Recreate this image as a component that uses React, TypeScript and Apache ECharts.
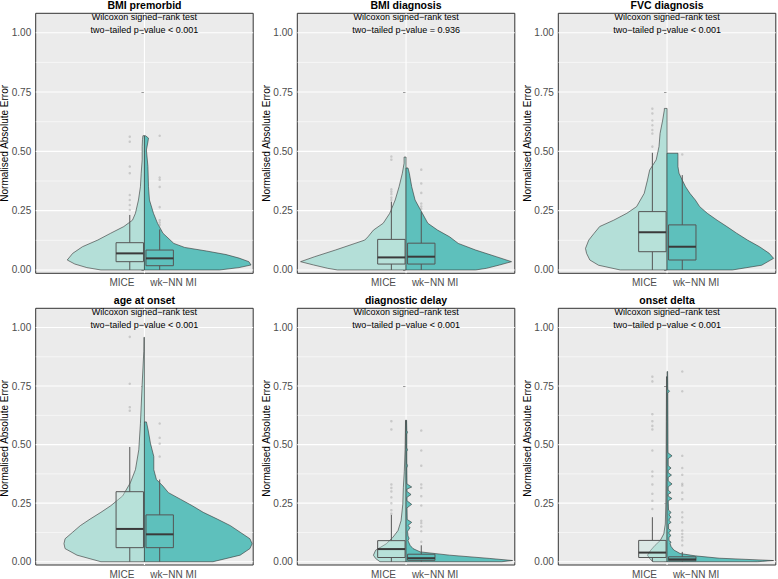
import React, { useEffect, useRef } from "react";
import * as echarts from "echarts";

// ---------- data ----------
const PANEL_TITLES = ["BMI premorbid", "BMI diagnosis", "FVC diagnosis", "age at onset", "diagnostic delay", "onset delta"];
const TEST_NAME = "Wilcoxon signed−rank test";
const P_TEXTS = [
  "two−tailed p−value < 0.001",
  "two−tailed p−value = 0.936",
  "two−tailed p−value < 0.001",
  "two−tailed p−value < 0.001",
  "two−tailed p−value < 0.001",
  "two−tailed p−value < 0.001",
];
const METHODS = ["MICE", "wk−NN MI"];
const Y_TITLE = "Normalised Absolute Error";
const Y_TICKS = [0, 0.25, 0.5, 0.75, 1];

// violin profiles (error value, half-width of density)
const BMIPRE_MICE_Y = [0, 0.01, 0.025, 0.042, 0.07, 0.098, 0.126, 0.155, 0.183, 0.21, 0.239, 0.295, 0.351, 0.408, 0.464, 0.52, 0.55, 0.566];
const BMIPRE_MICE_W = [0.4, 0.53, 0.64, 0.71, 0.66, 0.57, 0.43, 0.31, 0.19, 0.11, 0.083, 0.055, 0.037, 0.03, 0.021, 0.021, 0.018, 0.014];
const BMIPRE_WKNN_Y = [0, 0.01, 0.021, 0.035, 0.05, 0.065, 0.08, 0.095, 0.112, 0.155, 0.197, 0.239, 0.295, 0.351, 0.436, 0.506, 0.54, 0.556, 0.566];
const BMIPRE_WKNN_W = [0.69, 0.87, 0.98, 0.96, 0.87, 0.75, 0.57, 0.37, 0.27, 0.17, 0.12, 0.083, 0.046, 0.037, 0.032, 0.018, 0.032, 0.037, 0.009];

const BMIDIAG_MICE_Y = [0, 0.007, 0.021, 0.035, 0.056, 0.084, 0.112, 0.126, 0.14, 0.168, 0.197, 0.239, 0.295, 0.351, 0.408, 0.45, 0.476];
const BMIDIAG_MICE_W = [0.63, 0.72, 0.85, 0.97, 0.84, 0.65, 0.47, 0.38, 0.35, 0.3, 0.21, 0.15, 0.1, 0.064, 0.034, 0.018, 0.018];
const BMIDIAG_WKNN_Y = [0, 0.007, 0.021, 0.035, 0.056, 0.084, 0.112, 0.14, 0.168, 0.197, 0.239, 0.295, 0.351, 0.408, 0.43];
const BMIDIAG_WKNN_W = [0.64, 0.74, 0.86, 0.97, 0.83, 0.64, 0.48, 0.4, 0.29, 0.2, 0.15, 0.083, 0.052, 0.03, 0.018];

const FVC_MICE_Y = [0, 0.02, 0.042, 0.07, 0.091, 0.126, 0.155, 0.183, 0.21, 0.239, 0.267, 0.323, 0.379, 0.421, 0.464, 0.52, 0.576, 0.632, 0.674, 0.681];
const FVC_MICE_W = [0.43, 0.63, 0.71, 0.74, 0.75, 0.72, 0.67, 0.62, 0.49, 0.37, 0.28, 0.21, 0.18, 0.16, 0.1, 0.074, 0.064, 0.04, 0.025, 0.025];
const FVC_WKNN_Y = [0, 0.02, 0.049, 0.07, 0.098, 0.126, 0.155, 0.183, 0.21, 0.239, 0.267, 0.295, 0.323, 0.351, 0.379, 0.408, 0.436, 0.478, 0.492];
const FVC_WKNN_W = [0.6, 0.87, 0.98, 0.94, 0.85, 0.74, 0.64, 0.55, 0.46, 0.37, 0.3, 0.26, 0.21, 0.17, 0.14, 0.11, 0.1, 0.1, 0.1];

const AGE_MICE_Y = [0, 0.028, 0.056, 0.077, 0.098, 0.126, 0.154, 0.182, 0.211, 0.239, 0.281, 0.337, 0.393, 0.478, 0.59, 0.758, 0.899, 0.958];
const AGE_MICE_W = [0.4, 0.62, 0.73, 0.74, 0.73, 0.66, 0.59, 0.5, 0.4, 0.31, 0.2, 0.13, 0.083, 0.052, 0.037, 0.021, 0.006, 0.005];
const AGE_WKNN_Y = [0, 0.028, 0.056, 0.077, 0.098, 0.126, 0.154, 0.182, 0.211, 0.239, 0.267, 0.295, 0.323, 0.351, 0.393, 0.449, 0.506, 0.562, 0.597];
const AGE_WKNN_W = [0.63, 0.88, 0.97, 0.99, 0.97, 0.88, 0.79, 0.67, 0.54, 0.44, 0.33, 0.22, 0.17, 0.11, 0.086, 0.086, 0.055, 0.034, 0.018];

const DELAY_MICE_Y = [0, 0.014, 0.028, 0.049, 0.077, 0.105, 0.133, 0.175, 0.245, 0.316, 0.386, 0.478, 0.562, 0.604];
const DELAY_MICE_W = [0.24, 0.28, 0.3, 0.28, 0.18, 0.12, 0.074, 0.046, 0.03, 0.025, 0.016, 0.009, 0.006, 0.005];
const DELAY_WKNN_Y = [0, 0.005, 0.014, 0.028, 0.042, 0.056, 0.07, 0.09, 0.1, 0.11, 0.13, 0.145, 0.155, 0.168, 0.18, 0.23, 0.245, 0.26, 0.275, 0.287, 0.3, 0.31, 0.319, 0.332, 0.4, 0.41, 0.42, 0.47, 0.478, 0.486, 0.545, 0.553, 0.56, 0.604];
const DELAY_WKNN_W = [0.88, 0.98, 0.77, 0.4, 0.13, 0.064, 0.037, 0.018, 0.028, 0.018, 0.014, 0.037, 0.018, 0.052, 0.011, 0.009, 0.052, 0.009, 0.009, 0.046, 0.009, 0.009, 0.052, 0.009, 0.007, 0.014, 0.007, 0.007, 0.014, 0.007, 0.007, 0.014, 0.007, 0.005];

const DELTA_MICE_Y = [0, 0.014, 0.028, 0.049, 0.07, 0.091, 0.119, 0.161, 0.25, 0.4, 0.6, 0.79];
const DELTA_MICE_W = [0.13, 0.16, 0.18, 0.15, 0.11, 0.062, 0.03, 0.016, 0.011, 0.009, 0.007, 0.005];
const DELTA_WKNN_Y = [0, 0.005, 0.015, 0.025, 0.035, 0.05, 0.065, 0.077, 0.084, 0.09, 0.105, 0.112, 0.12, 0.126, 0.133, 0.14, 0.16, 0.168, 0.176, 0.183, 0.19, 0.2, 0.211, 0.22, 0.26, 0.27, 0.28, 0.288, 0.295, 0.305, 0.32, 0.332, 0.345, 0.36, 0.37, 0.38, 0.39, 0.4, 0.41, 0.44, 0.452, 0.465, 0.72, 0.728, 0.736, 0.812];
const DELTA_WKNN_W = [0.83, 0.98, 0.48, 0.26, 0.12, 0.062, 0.037, 0.028, 0.037, 0.018, 0.018, 0.037, 0.018, 0.018, 0.037, 0.014, 0.014, 0.037, 0.02, 0.02, 0.037, 0.018, 0.037, 0.014, 0.011, 0.046, 0.011, 0.011, 0.037, 0.011, 0.011, 0.046, 0.011, 0.011, 0.041, 0.011, 0.011, 0.037, 0.011, 0.011, 0.046, 0.009, 0.007, 0.023, 0.007, 0.005];

// boxplot stats: [lower whisker, Q1, median, Q3, upper whisker]
const BOX_MICE = [
  [0, 0.035, 0.07, 0.115, 0.232],
  [0, 0.025, 0.053, 0.129, 0.288],
  [0, 0.077, 0.159, 0.246, 0.494],
  [0, 0.06, 0.14, 0.299, 0.49],
  [0, 0.018, 0.054, 0.09, 0.2],
  [0, 0.018, 0.039, 0.091, 0.19],
];
const BOX_WKNN = [
  [0, 0.018, 0.049, 0.084, 0.171],
  [0, 0.025, 0.056, 0.113, 0.245],
  [0, 0.042, 0.098, 0.19, 0.4],
  [0, 0.06, 0.117, 0.2, 0.351],
  [0, 0.006, 0.015, 0.032, 0.07],
  [0, 0.004, 0.01, 0.021, 0.042],
];

// outliers
const OUT_MICE = [
  [0.562, 0.541, 0.436, 0.408, 0.316, 0.295, 0.274, 0.253],
  [0.478, 0.465, 0.34, 0.33, 0.32, 0.305, 0.295],
  [0.68, 0.66, 0.63, 0.61, 0.59, 0.575, 0.52],
  [0.96, 0.76, 0.66, 0.645],
  [0.6, 0.565, 0.33, 0.315, 0.3, 0.275, 0.25, 0.22, 0.205],
  [0.79, 0.77, 0.63, 0.6, 0.58, 0.565, 0.475, 0.385, 0.365, 0.33, 0.29, 0.26, 0.225],
];
const OUT_WKNN = [
  [0.566, 0.39, 0.38, 0.35, 0.265, 0.21, 0.2, 0.19],
  [0.423, 0.365, 0.325, 0.28, 0.268, 0.258],
  [0.487],
  [0.59, 0.529, 0.504, 0.449],
  [0.56, 0.475, 0.41, 0.33, 0.315, 0.28, 0.24, 0.175, 0.165, 0.15, 0.13, 0.085],
  [0.812, 0.728, 0.452, 0.4, 0.371, 0.333, 0.325, 0.295, 0.267, 0.211, 0.19, 0.168, 0.133, 0.119, 0.105, 0.091, 0.07],
];

const VIOLINS = [
  [{ y: BMIPRE_MICE_Y, w: BMIPRE_MICE_W }, { y: BMIPRE_WKNN_Y, w: BMIPRE_WKNN_W }],
  [{ y: BMIDIAG_MICE_Y, w: BMIDIAG_MICE_W }, { y: BMIDIAG_WKNN_Y, w: BMIDIAG_WKNN_W }],
  [{ y: FVC_MICE_Y, w: FVC_MICE_W }, { y: FVC_WKNN_Y, w: FVC_WKNN_W }],
  [{ y: AGE_MICE_Y, w: AGE_MICE_W }, { y: AGE_WKNN_Y, w: AGE_WKNN_W }],
  [{ y: DELAY_MICE_Y, w: DELAY_MICE_W }, { y: DELAY_WKNN_Y, w: DELAY_WKNN_W }],
  [{ y: DELTA_MICE_Y, w: DELTA_MICE_W }, { y: DELTA_WKNN_Y, w: DELTA_WKNN_W }],
];

// ---------- layout / style ----------
const FONT = "'Liberation Sans', Arial, Helvetica, sans-serif";
const FILLS = ["#B4DFD8", "#5EC0BC"];
const BOX_FILLS = ["rgba(190,228,222,0.35)", "rgba(94,192,188,0.35)"];
const GRID_LEFTS = [35.7, 297.3, 558.3];
const GRID_TOPS = [13.3, 308.3];
const GRID_W = 217.5;
const GRID_H = 260;
const Y_MIN = -0.014;
const Y_MAX = 1.082;
const BOX_X = [-0.135, 0.14];
const BOX_HALF = 0.126;
const X_LABEL_POS = [-0.207, 0.267];

export default function App() {
  const ref = useRef<HTMLDivElement>(null);

  useEffect(() => {
    if (!ref.current) return;
    const chart = echarts.init(ref.current, null, { renderer: "svg" });

    const grids: any[] = [];
    const xAxes: any[] = [];
    const yAxes: any[] = [];
    const series: any[] = [];
    const graphics: any[] = [];

    for (let i = 0; i < 6; i++) {
      const col = i % 3;
      const row = Math.floor(i / 3);
      const left = GRID_LEFTS[col];
      const top = GRID_TOPS[row];
      const cx = left + GRID_W / 2;

      grids.push({
        left, top, width: GRID_W, height: GRID_H,
        show: true, backgroundColor: "#EBEBEB", borderColor: "#333333", borderWidth: 1,
      });
      xAxes.push({
        gridIndex: i, type: "value", min: -1, max: 1,
        axisLine: { show: false }, axisTick: { show: false }, splitLine: { show: false },
        axisLabel: {
          customValues: X_LABEL_POS,
          formatter: (v: number) => (v < 0 ? METHODS[0] : METHODS[1]),
          color: "#4D4D4D", fontSize: 10, margin: 4, fontFamily: FONT,
        },
      });
      yAxes.push({
        gridIndex: i, type: "value", min: Y_MIN, max: Y_MAX,
        axisLine: { show: false },
        axisTick: { show: true, customValues: Y_TICKS, length: 3, lineStyle: { color: "#333333", width: 1 } },
        axisLabel: {
          customValues: Y_TICKS,
          formatter: (v: number) => v.toFixed(2),
          color: "#4D4D4D", fontSize: 10, margin: 4.5, fontFamily: FONT,
        },
        splitLine: { show: false },
      });

      // grid lines
      series.push({
        type: "custom", xAxisIndex: i, yAxisIndex: i, silent: true, z: 1,
        data: [[0]],
        renderItem: (params: any, api: any) => {
          const children: any[] = [];
          for (let k = 0; k < Y_TICKS.length - 1; k++) {
            const m = (Y_TICKS[k] + Y_TICKS[k + 1]) / 2;
            const a = api.coord([-1, m]);
            const b = api.coord([1, m]);
            children.push({ type: "line", shape: { x1: a[0], y1: a[1], x2: b[0], y2: b[1] }, style: { stroke: "#FFFFFF", lineWidth: 0.55 } });
          }
          Y_TICKS.forEach((t) => {
            const a = api.coord([-1, t]);
            const b = api.coord([1, t]);
            children.push({ type: "line", shape: { x1: a[0], y1: a[1], x2: b[0], y2: b[1] }, style: { stroke: "#FFFFFF", lineWidth: 1.1 } });
          });
          const va = api.coord([0, Y_MIN]);
          const vb = api.coord([0, Y_MAX]);
          children.push({ type: "line", shape: { x1: va[0], y1: va[1], x2: vb[0], y2: vb[1] }, style: { stroke: "#FFFFFF", lineWidth: 1.1 } });
          return { type: "group", children };
        },
      });

      // violins
      const prof = VIOLINS[i];
      series.push({
        type: "custom", xAxisIndex: i, yAxisIndex: i, silent: true, z: 2,
        data: [[0], [1]],
        renderItem: (params: any, api: any) => {
          const side = api.value(0);
          const p = prof[side];
          const sign = side === 0 ? -1 : 1;
          const n = Math.min(p.y.length, p.w.length);
          const pts: number[][] = [];
          for (let k = 0; k < n; k++) pts.push(api.coord([sign * p.w[k], p.y[k]]));
          pts.push(api.coord([0, p.y[n - 1]]));
          pts.push(api.coord([0, p.y[0]]));
          return {
            type: "polygon",
            shape: { points: pts },
            style: { fill: FILLS[side], stroke: "#333333", lineWidth: 0.6, lineJoin: "round" },
          };
        },
      });

      // boxplots
      const boxes = [BOX_MICE[i], BOX_WKNN[i]];
      series.push({
        type: "custom", xAxisIndex: i, yAxisIndex: i, silent: true, z: 3,
        data: [[0], [1]],
        renderItem: (params: any, api: any) => {
          const side = api.value(0);
          const [lo, q1, med, q3, hi] = boxes[side];
          const x = BOX_X[side];
          const wTop = [api.coord([x, q3]), api.coord([x, hi])];
          const wBot = [api.coord([x, q1]), api.coord([x, lo])];
          const tl = api.coord([x - BOX_HALF, q3]);
          const br = api.coord([x + BOX_HALF, q1]);
          const ml = api.coord([x - BOX_HALF, med]);
          const mr = api.coord([x + BOX_HALF, med]);
          const lineStyle = { stroke: "#555555", lineWidth: 1 };
          return {
            type: "group",
            children: [
              { type: "line", shape: { x1: wTop[0][0], y1: wTop[0][1], x2: wTop[1][0], y2: wTop[1][1] }, style: lineStyle },
              { type: "line", shape: { x1: wBot[0][0], y1: wBot[0][1], x2: wBot[1][0], y2: wBot[1][1] }, style: lineStyle },
              {
                type: "rect",
                shape: { x: tl[0], y: tl[1], width: br[0] - tl[0], height: br[1] - tl[1] },
                style: { fill: BOX_FILLS[side], stroke: "#555555", lineWidth: 1 },
              },
              { type: "line", shape: { x1: ml[0], y1: ml[1], x2: mr[0], y2: mr[1] }, style: { stroke: "#3A3A3A", lineWidth: 2 } },
            ],
          };
        },
      });

      // outliers
      series.push({
        type: "scatter", xAxisIndex: i, yAxisIndex: i, silent: true, z: 4,
        symbolSize: 2.5,
        itemStyle: { color: "rgba(140,140,140,0.45)" },
        data: [
          ...OUT_MICE[i].map((v) => [BOX_X[0], v]),
          ...OUT_WKNN[i].map((v) => [BOX_X[1], v]),
        ],
      });

      // texts
      graphics.push({
        type: "text", x: cx, y: top - 8,
        style: { text: PANEL_TITLES[i], fontSize: 10.5, fontWeight: "bold", fill: "#000", align: "center", verticalAlign: "middle", fontFamily: FONT },
      });
      graphics.push({
        type: "text", x: cx, y: top + 3.6, z: 10,
        style: { text: TEST_NAME, fontSize: 9, fill: "#000", align: "center", verticalAlign: "middle", fontFamily: FONT },
      });
      graphics.push({
        type: "text", x: cx, y: top + 16.8, z: 10,
        style: { text: P_TEXTS[i], fontSize: 9, fill: "#000", align: "center", verticalAlign: "middle", fontFamily: FONT },
      });
      graphics.push({
        type: "text", x: left - 31, y: top + GRID_H / 2, rotation: Math.PI / 2,
        style: { text: Y_TITLE, fontSize: 10, fill: "#000", align: "center", verticalAlign: "middle", fontFamily: FONT },
      });
    }

    chart.setOption({
      animation: false,
      textStyle: { fontFamily: FONT },
      grid: grids,
      xAxis: xAxes,
      yAxis: yAxes,
      series,
      graphic: graphics,
    });

    return () => chart.dispose();
  }, []);

  return (
    <div
      ref={ref}
      style={{ position: "absolute", left: 0, top: 0, width: 778, height: 579, background: "#FFFFFF" }}
    />
  );
}
